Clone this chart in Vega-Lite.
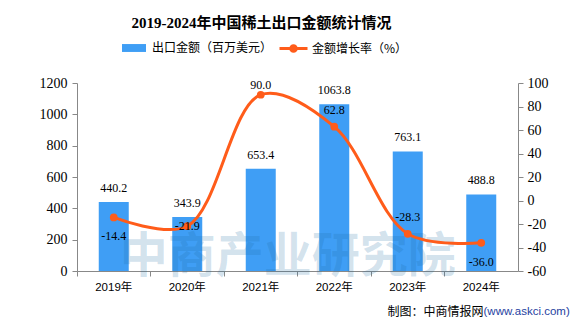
{
  "$schema": "https://vega.github.io/schema/vega-lite/v6.json",
  "width": 441,
  "height": 188,
  "autosize": "none",
  "padding": {"left": 77, "top": 83, "right": 58, "bottom": 53},
  "background": "white",
  "title": {
    "text": "2019-2024年中国稀土出口金额统计情况",
    "font": "Liberation Serif, Noto Sans CJK SC",
    "fontSize": 15,
    "fontWeight": "bold",
    "color": "#000000",
    "anchor": "middle",
    "dx": -36,
    "offset": 2
  },
  "config": {
    "view": {"stroke": null},
    "locale": {
      "number": {"decimal": ".", "thousands": ",", "grouping": [3], "currency": ["", ""], "minus": "-"}
    },
    "axis": {
      "grid": false,
      "domainColor": "#888888",
      "tickColor": "#888888",
      "labelColor": "#000000",
      "tickSize": 5
    }
  },
  "data": {
    "values": [
      {"year": "2019年", "export": 440.2, "growth": -14.4},
      {"year": "2020年", "export": 343.9, "growth": -21.9},
      {"year": "2021年", "export": 653.4, "growth": 90.0},
      {"year": "2022年", "export": 1063.8, "growth": 62.8},
      {"year": "2023年", "export": 763.1, "growth": -28.3},
      {"year": "2024年", "export": 488.8, "growth": -36.0}
    ]
  },
  "encoding": {
    "x": {
      "field": "year",
      "type": "nominal",
      "sort": null,
      "scale": {"paddingInner": 0, "paddingOuter": 0},
      "axis": {
        "labelAngle": 0,
        "bandPosition": 0,
        "labelFont": "Liberation Sans, Noto Sans CJK SC",
        "labelFontSize": 11.5,
        "labelPadding": 5,
        "title": "制图：中商情报网",
        "titleX": 406,
        "titleY": 40,
        "titleAlign": "right",
        "titleBaseline": "middle",
        "titleFont": "Noto Sans CJK SC",
        "titleFontSize": 12,
        "titleFontWeight": "normal",
        "titleColor": "#000000"
      }
    }
  },
  "layer": [
    {
      "encoding": {
        "y": {
          "field": "export",
          "type": "quantitative",
          "scale": {"domain": [0, 1200]},
          "axis": {
            "values": [0, 200, 400, 600, 800, 1000, 1200],
            "format": "d",
            "labelFont": "Liberation Serif",
            "labelFontSize": 14,
            "labelPadding": 5,
            "title": null
          }
        }
      },
      "layer": [
        {
          "mark": {"type": "bar", "width": 30},
          "encoding": {
            "fill": {
              "datum": "出口金额（百万美元）",
              "scale": {"range": ["#3f9ef5"]},
              "legend": {
                "title": null,
                "orient": "none",
                "legendX": 44,
                "legendY": -48,
                "padding": 0,
                "symbolType": "M-1,-0.33H1V0.33H-1Z",
                "symbolSize": 576,
                "labelFont": "Noto Sans CJK SC",
                "labelFontSize": 12,
                "labelColor": "#000000",
                "labelOffset": 5,
                "labelLimit": 300
              }
            }
          }
        },
        {
          "data": {"values": [{"wm": "中商产业研究院", "pos": "2021年", "v": 85}]},
          "mark": {
            "type": "text",
            "font": "Noto Sans CJK SC",
            "fontSize": 48,
            "fontWeight": "bold",
            "fill": "#1a6aa0",
            "fillOpacity": 0.2,
            "baseline": "middle",
            "align": "center",
            "dx": 27
          },
          "encoding": {
            "x": {"field": "pos", "type": "nominal"},
            "y": {"field": "v", "type": "quantitative"},
            "text": {"field": "wm"}
          }
        },
        {
          "mark": {
            "type": "text",
            "font": "Liberation Serif",
            "fontSize": 12,
            "color": "#000000",
            "baseline": "middle",
            "dy": -14
          },
          "encoding": {"text": {"field": "export", "type": "quantitative", "format": ".1f"}}
        }
      ]
    },
    {
      "encoding": {
        "y": {
          "field": "growth",
          "type": "quantitative",
          "scale": {"domain": [-60, 100]},
          "axis": {
            "orient": "right",
            "values": [-60, -40, -20, 0, 20, 40, 60, 80, 100],
            "format": "d",
            "labelFont": "Liberation Serif",
            "labelFontSize": 14,
            "labelPadding": 4,
            "title": "(www.askci.com)",
            "titleAngle": 0,
            "titleX": -35,
            "titleY": 228,
            "titleAlign": "left",
            "titleBaseline": "middle",
            "titleFont": "Liberation Sans",
            "titleFontSize": 11.5,
            "titleFontWeight": "normal",
            "titleColor": "#1f3f9f"
          }
        }
      },
      "layer": [
        {
          "mark": {"type": "line", "interpolate": "catmull-rom", "strokeWidth": 3},
          "encoding": {
            "stroke": {
              "datum": "金额增长率（%）",
              "scale": {"range": ["#ff5c1a"]},
              "legend": {
                "title": null,
                "orient": "none",
                "legendX": 201,
                "legendY": -50,
                "padding": 0,
                "symbolType": "M-1,0H1M0.2,0A0.2,0.2,0,1,1,-0.2,0A0.2,0.2,0,1,1,0.2,0Z",
                "symbolSize": 784,
                "symbolStrokeWidth": 3,
                "symbolFillColor": "#ff5c1a",
                "labelFont": "Noto Sans CJK SC",
                "labelFontSize": 12,
                "labelColor": "#000000",
                "labelOffset": 3,
                "labelLimit": 300
              }
            }
          }
        },
        {
          "mark": {"type": "point", "filled": true, "size": 60, "color": "#ff5c1a", "opacity": 1}
        },
        {
          "transform": [{"filter": {"field": "year", "oneOf": ["2019年", "2024年"]}}],
          "mark": {"type": "text", "font": "Liberation Serif", "fontSize": 12, "color": "#000000", "baseline": "middle", "dy": 19},
          "encoding": {"text": {"field": "growth", "type": "quantitative", "format": ".1f"}}
        },
        {
          "transform": [{"filter": {"field": "year", "oneOf": ["2020年"]}}],
          "mark": {"type": "text", "font": "Liberation Serif", "fontSize": 12, "color": "#000000", "baseline": "middle", "dy": 0},
          "encoding": {"text": {"field": "growth", "type": "quantitative", "format": ".1f"}}
        },
        {
          "transform": [{"filter": {"field": "year", "oneOf": ["2021年"]}}],
          "mark": {"type": "text", "font": "Liberation Serif", "fontSize": 12, "color": "#000000", "baseline": "middle", "dy": -10},
          "encoding": {"text": {"field": "growth", "type": "quantitative", "format": ".1f"}}
        },
        {
          "transform": [{"filter": {"field": "year", "oneOf": ["2022年", "2023年"]}}],
          "mark": {"type": "text", "font": "Liberation Serif", "fontSize": 12, "color": "#000000", "baseline": "middle", "dy": -17},
          "encoding": {"text": {"field": "growth", "type": "quantitative", "format": ".1f"}}
        }
      ]
    }
  ],
  "resolve": {"scale": {"y": "independent"}}
}
